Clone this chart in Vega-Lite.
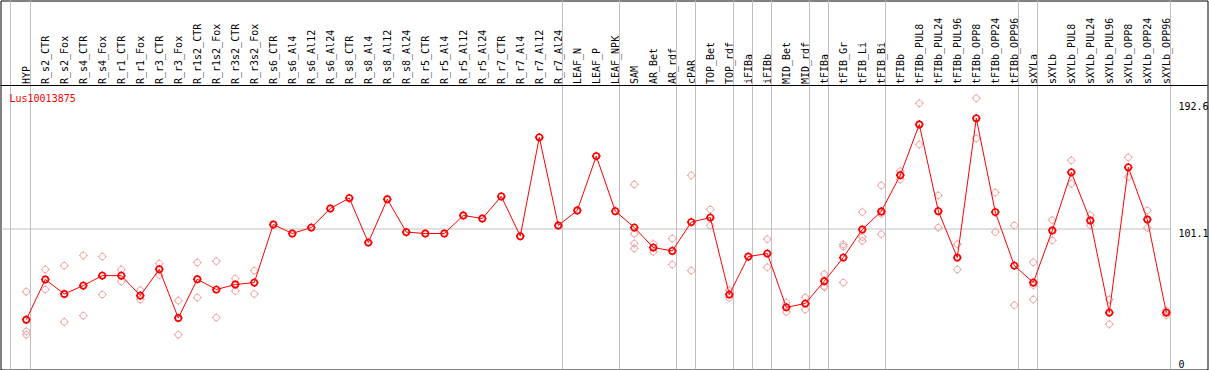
{
  "$schema": "https://vega.github.io/schema/vega-lite/v6.json",
  "width": 1207,
  "height": 369,
  "autosize": {"type": "none"},
  "padding": {"left": 0.5, "top": 0.5, "right": 1, "bottom": 0},
  "background": "white",
  "title": {"text": "Lus10013875", "anchor": "start", "frame": "group", "orient": "top", "color": "#ff0000", "font": "DejaVu Sans Mono", "fontSize": 10, "fontWeight": "normal", "baseline": "middle", "offset": 0, "dx": 9, "dy": 109},
  "datasets": {
    "seps": [{"cat": "HYP"}, {"cat": "R_r7_Al24"}, {"cat": "LEAF_NPK"}, {"cat": "AR_rdf"}, {"cat": "cPAR"}, {"cat": "TOP_rdf"}, {"cat": "iFIBa"}, {"cat": "iFIBb"}, {"cat": "MID_rdf"}, {"cat": "tFIBa"}, {"cat": "tFIB_Bi"}, {"cat": "tFIBb_OPP96"}, {"cat": "sXYLa"}, {"cat": "sXYLb_OPP96"}],
    "lead": [{"cat": "HYP"}],
    "means": [
      {"cat": "HYP", "value": 35.5}, {"cat": "R_s2_CTR", "value": 64.4}, {"cat": "R_s2_Fox", "value": 54.0}, {"cat": "R_s4_CTR", "value": 60.0}, {"cat": "R_s4_Fox", "value": 67.2}, {"cat": "R_r1_CTR", "value": 67.2}, {"cat": "R_r1_Fox", "value": 52.8}, {"cat": "R_r3_CTR", "value": 71.8}, {"cat": "R_r3_Fox", "value": 36.7}, {"cat": "R_r1s2_CTR", "value": 64.6}, {"cat": "R_r1s2_Fox", "value": 57.2}, {"cat": "R_r3s2_CTR", "value": 60.8}, {"cat": "R_r3s2_Fox", "value": 62.2},
      {"cat": "R_s6_CTR", "value": 104.0}, {"cat": "R_s6_Al4", "value": 97.5}, {"cat": "R_s6_Al12", "value": 101.8}, {"cat": "R_s6_Al24", "value": 115.5}, {"cat": "R_s8_CTR", "value": 123.0}, {"cat": "R_s8_Al4", "value": 91.0}, {"cat": "R_s8_Al12", "value": 122.2}, {"cat": "R_s8_Al24", "value": 98.5}, {"cat": "R_r5_CTR", "value": 97.5}, {"cat": "R_r5_Al4", "value": 97.5}, {"cat": "R_r5_Al12", "value": 110.5}, {"cat": "R_r5_Al24", "value": 108.3}, {"cat": "R_r7_CTR", "value": 124.2}, {"cat": "R_r7_Al4", "value": 95.6}, {"cat": "R_r7_Al12", "value": 166.7}, {"cat": "R_r7_Al24", "value": 103.3},
      {"cat": "LEAF_N", "value": 114.1}, {"cat": "LEAF_P", "value": 153.2}, {"cat": "LEAF_NPK", "value": 113.6}, {"cat": "SAM", "value": 101.8}, {"cat": "AR_Bet", "value": 87.4}, {"cat": "AR_rdf", "value": 85.0}, {"cat": "cPAR", "value": 105.7}, {"cat": "TOP_Bet", "value": 109.0}, {"cat": "TOP_rdf", "value": 53.6}, {"cat": "iFIBa", "value": 80.9}, {"cat": "iFIBb", "value": 83.1}, {"cat": "MID_Bet", "value": 44.4}, {"cat": "MID_rdf", "value": 47.1},
      {"cat": "tFIBa", "value": 63.2}, {"cat": "tFIB_Gr", "value": 80.2}, {"cat": "tFIB_Li", "value": 100.4}, {"cat": "tFIB_Bi", "value": 113.4}, {"cat": "tFIBb", "value": 139.5}, {"cat": "tFIBb_PUL8", "value": 176.0}, {"cat": "tFIBb_PUL24", "value": 113.6}, {"cat": "tFIBb_PUL96", "value": 80.2}, {"cat": "tFIBb_OPP8", "value": 180.4}, {"cat": "tFIBb_OPP24", "value": 112.9}, {"cat": "tFIBb_OPP96", "value": 74.4},
      {"cat": "sXYLa", "value": 62.2}, {"cat": "sXYLb", "value": 99.7}, {"cat": "sXYLb_PUL8", "value": 141.5}, {"cat": "sXYLb_PUL24", "value": 106.9}, {"cat": "sXYLb_PUL96", "value": 40.6}, {"cat": "sXYLb_OPP8", "value": 145.1}, {"cat": "sXYLb_OPP24", "value": 107.6}, {"cat": "sXYLb_OPP96", "value": 40.6}
    ],
    "reps": [
      {"cat": "HYP", "value": 55.7}, {"cat": "HYP", "value": 27.1}, {"cat": "HYP", "value": 24.7},
      {"cat": "R_s2_CTR", "value": 71.6}, {"cat": "R_s2_CTR", "value": 57.2},
      {"cat": "R_s2_Fox", "value": 74.4}, {"cat": "R_s2_Fox", "value": 33.9},
      {"cat": "R_s4_CTR", "value": 81.7}, {"cat": "R_s4_CTR", "value": 38.4},
      {"cat": "R_s4_Fox", "value": 80.9}, {"cat": "R_s4_Fox", "value": 53.6},
      {"cat": "R_r1_CTR", "value": 71.6}, {"cat": "R_r1_CTR", "value": 62.9},
      {"cat": "R_r1_Fox", "value": 56.7}, {"cat": "R_r1_Fox", "value": 50.0},
      {"cat": "R_r3_CTR", "value": 75.9}, {"cat": "R_r3_CTR", "value": 67.5},
      {"cat": "R_r3_Fox", "value": 49.2}, {"cat": "R_r3_Fox", "value": 24.7},
      {"cat": "R_r1s2_CTR", "value": 76.6}, {"cat": "R_r1s2_CTR", "value": 51.4},
      {"cat": "R_r1s2_Fox", "value": 77.6}, {"cat": "R_r1s2_Fox", "value": 37.0},
      {"cat": "R_r3s2_CTR", "value": 65.1}, {"cat": "R_r3s2_CTR", "value": 56.2},
      {"cat": "R_r3s2_Fox", "value": 70.8}, {"cat": "R_r3s2_Fox", "value": 54.0},
      {"cat": "SAM", "value": 132.8}, {"cat": "SAM", "value": 97.3}, {"cat": "SAM", "value": 90.3}, {"cat": "SAM", "value": 86.7},
      {"cat": "AR_Bet", "value": 90.1}, {"cat": "AR_Bet", "value": 84.3},
      {"cat": "AR_rdf", "value": 93.9}, {"cat": "AR_rdf", "value": 75.2},
      {"cat": "cPAR", "value": 139.3}, {"cat": "cPAR", "value": 70.8},
      {"cat": "TOP_Bet", "value": 114.8}, {"cat": "TOP_Bet", "value": 103.3},
      {"cat": "TOP_rdf", "value": 56.7}, {"cat": "TOP_rdf", "value": 51.2},
      {"cat": "iFIBb", "value": 93.4}, {"cat": "iFIBb", "value": 73.2},
      {"cat": "MID_Bet", "value": 47.8}, {"cat": "MID_Bet", "value": 41.1},
      {"cat": "MID_rdf", "value": 51.6}, {"cat": "MID_rdf", "value": 42.7},
      {"cat": "tFIBa", "value": 68.2}, {"cat": "tFIBa", "value": 59.6}, {"cat": "tFIBa", "value": 58.8},
      {"cat": "tFIB_Gr", "value": 89.6}, {"cat": "tFIB_Gr", "value": 88.1}, {"cat": "tFIB_Gr", "value": 62.2},
      {"cat": "tFIB_Li", "value": 112.9}, {"cat": "tFIB_Li", "value": 94.9}, {"cat": "tFIB_Li", "value": 92.2},
      {"cat": "tFIB_Bi", "value": 132.1}, {"cat": "tFIB_Bi", "value": 111.7}, {"cat": "tFIB_Bi", "value": 97.0},
      {"cat": "tFIBb", "value": 142.4}, {"cat": "tFIBb", "value": 136.4},
      {"cat": "tFIBb_PUL8", "value": 191.2}, {"cat": "tFIBb_PUL8", "value": 161.6},
      {"cat": "tFIBb_PUL24", "value": 124.9}, {"cat": "tFIBb_PUL24", "value": 101.8},
      {"cat": "tFIBb_PUL96", "value": 89.8}, {"cat": "tFIBb_PUL96", "value": 71.6},
      {"cat": "tFIBb_OPP8", "value": 194.8}, {"cat": "tFIBb_OPP8", "value": 165.9},
      {"cat": "tFIBb_OPP24", "value": 127.0}, {"cat": "tFIBb_OPP24", "value": 98.5},
      {"cat": "tFIBb_OPP96", "value": 103.3}, {"cat": "tFIBb_OPP96", "value": 45.9},
      {"cat": "sXYLa", "value": 76.8}, {"cat": "sXYLa", "value": 60.3}, {"cat": "sXYLa", "value": 50.0},
      {"cat": "sXYLb", "value": 107.1}, {"cat": "sXYLb", "value": 92.5},
      {"cat": "sXYLb_PUL8", "value": 150.1}, {"cat": "sXYLb_PUL8", "value": 133.3},
      {"cat": "sXYLb_PUL24", "value": 110.7}, {"cat": "sXYLb_PUL24", "value": 103.3},
      {"cat": "sXYLb_PUL96", "value": 50.0}, {"cat": "sXYLb_PUL96", "value": 32.2},
      {"cat": "sXYLb_OPP8", "value": 152.3}, {"cat": "sXYLb_OPP8", "value": 138.1},
      {"cat": "sXYLb_OPP24", "value": 114.1}, {"cat": "sXYLb_OPP24", "value": 101.6},
      {"cat": "sXYLb_OPP96", "value": 42.0}, {"cat": "sXYLb_OPP96", "value": 38.7}
    ]
  },
  "layer": [
    {
      "data": {"name": "seps"},
      "mark": {"type": "rule", "color": "#c0c0c0", "strokeWidth": 1, "xOffset": 4.2},
      "encoding": {"x": {"field": "cat", "type": "nominal", "sort": null}}
    },
    {
      "data": {"name": "lead"},
      "mark": {"type": "rule", "color": "#c0c0c0", "strokeWidth": 1, "xOffset": -15.8},
      "encoding": {"x": {"field": "cat", "type": "nominal", "sort": null}}
    },
    {
      "data": {"name": "lead"},
      "mark": {"type": "rule", "color": "#000000", "strokeWidth": 1},
      "encoding": {"y": {"datum": 204, "type": "quantitative"}}
    },
    {
      "data": {"name": "reps"},
      "mark": {"type": "point", "shape": "M1,0C1,0.5523,0.5523,1,0,1C-0.5523,1,-1,0.5523,-1,0C-1,-0.5523,-0.5523,-1,0,-1C0.5523,-1,1,-0.5523,1,0ZM0,-1L0,-1.4M0,1L0,1.4M-1,0L-1.4,0M1,0L1.4,0", "size": 40, "filled": false, "color": "#f0a0a0", "strokeWidth": 1, "opacity": 1},
      "encoding": {
        "x": {"field": "cat", "type": "nominal", "sort": null},
        "y": {"field": "value", "type": "quantitative"}
      }
    },
    {
      "data": {"name": "means"},
      "mark": {"type": "line", "color": "#ff0000", "strokeWidth": 1},
      "encoding": {
        "x": {"field": "cat", "type": "nominal", "sort": null},
        "y": {"field": "value", "type": "quantitative"}
      }
    },
    {
      "data": {"name": "means"},
      "mark": {"type": "point", "shape": "M1,0C1,0.5523,0.5523,1,0,1C-0.5523,1,-1,0.5523,-1,0C-1,-0.5523,-0.5523,-1,0,-1C0.5523,-1,1,-0.5523,1,0ZM0,-1L0,-1.4M0,1L0,1.4M-1,0L-1.4,0M1,0L1.4,0", "size": 38, "filled": false, "color": "#ff0000", "strokeWidth": 1.6, "opacity": 1},
      "encoding": {
        "x": {
          "field": "cat", "type": "nominal", "sort": null,
          "scale": {
            "type": "point",
            "domain": ["HYP", "R_s2_CTR", "R_s2_Fox", "R_s4_CTR", "R_s4_Fox", "R_r1_CTR", "R_r1_Fox", "R_r3_CTR", "R_r3_Fox", "R_r1s2_CTR", "R_r1s2_Fox", "R_r3s2_CTR", "R_r3s2_Fox", "R_s6_CTR", "R_s6_Al4", "R_s6_Al12", "R_s6_Al24", "R_s8_CTR", "R_s8_Al4", "R_s8_Al12", "R_s8_Al24", "R_r5_CTR", "R_r5_Al4", "R_r5_Al12", "R_r5_Al24", "R_r7_CTR", "R_r7_Al4", "R_r7_Al12", "R_r7_Al24", "LEAF_N", "LEAF_P", "LEAF_NPK", "SAM", "AR_Bet", "AR_rdf", "cPAR", "TOP_Bet", "TOP_rdf", "iFIBa", "iFIBb", "MID_Bet", "MID_rdf", "tFIBa", "tFIB_Gr", "tFIB_Li", "tFIB_Bi", "tFIBb", "tFIBb_PUL8", "tFIBb_PUL24", "tFIBb_PUL96", "tFIBb_OPP8", "tFIBb_OPP24", "tFIBb_OPP96", "sXYLa", "sXYLb", "sXYLb_PUL8", "sXYLb_PUL24", "sXYLb_PUL96", "sXYLb_OPP8", "sXYLb_OPP24", "sXYLb_OPP96"],
            "range": [0, 1170],
            "padding": 0.78947,
            "align": 0.86
          },
          "axis": {
            "orient": "top", "offset": -85, "title": null, "domain": false, "ticks": false, "tickSize": 0, "grid": false,
            "labelAngle": 270, "labelAlign": "left", "labelBaseline": "middle", "labelPadding": 2,
            "labelFont": "DejaVu Sans Mono", "labelFontSize": 10, "labelColor": "#000000", "labelOverlap": false, "labelBound": false
          }
        },
        "y": {
          "field": "value", "type": "quantitative",
          "scale": {"domain": [0, 204], "range": [368.5, 85], "nice": false, "zero": false},
          "axis": {
            "orient": "left", "offset": -1170, "title": null, "domain": false, "ticks": false, "tickSize": 0,
            "values": [0, 101.1, 192.6], "format": ".4~g",
            "grid": true, "gridColor": "#c0c0c0", "gridWidth": 1,
            "gridOpacity": {"condition": {"test": "datum.value === 101.1", "value": 1}, "value": 0},
            "labelAlign": "left",
            "labelBaseline": {"condition": {"test": "datum.value === 0", "value": "bottom"}, "value": "top"},
            "labelPadding": -7.5, "labelFont": "DejaVu Sans Mono", "labelFontSize": 10, "labelColor": "#000000",
            "labelOverlap": false, "labelBound": false, "labelFlush": false
          }
        }
      }
    }
  ],
  "config": {"view": {"stroke": "#000000", "strokeWidth": 1}, "font": "DejaVu Sans Mono"}
}
